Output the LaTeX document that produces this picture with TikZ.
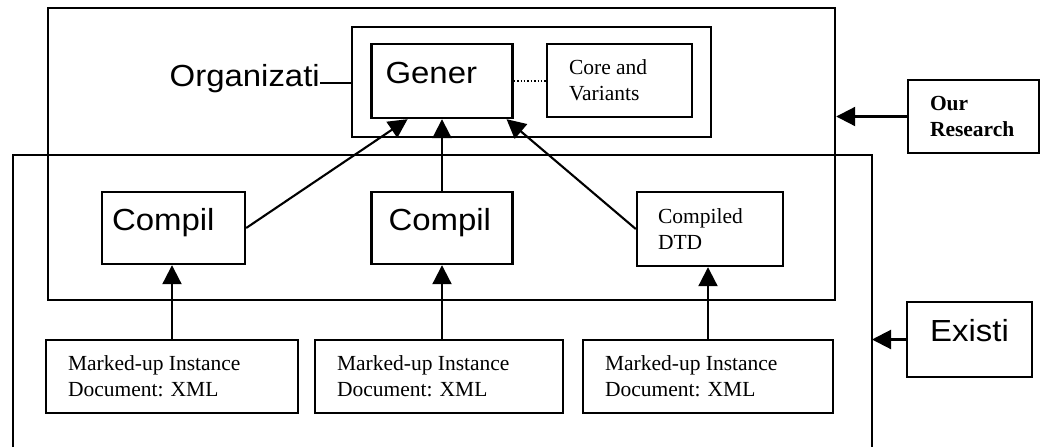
\documentclass[tikz,border=0pt]{standalone}
\usepackage{fontspec}
\setmainfont{Liberation Serif}
\newfontfamily\arialfont[FakeStretch=1.08]{Liberation Sans}
\usetikzlibrary{arrows.meta,calc}
\begin{document}
\begin{tikzpicture}[x=1pt,y=-1pt,
  frame/.style={draw, line width=2.4pt},
  sansfont/.style={font=\arialfont\fontsize{30.5}{34}\selectfont},
  sbox/.style={frame, sansfont, inner ysep=0pt, text height=0.72em, text depth=0.26em},
  tbox/.style={frame, font=\fontsize{21.5}{26}\selectfont, align=flush left, inner ysep=0pt},
  arr/.style={line width=2.1pt, -{Triangle[length=19pt,width=19pt]}},
]
\useasboundingbox (0,0) rectangle (1041,447);

% research frame and generic DTD container
\node[frame, minimum width=787pt, minimum height=292pt] (resf) at (441.5,154) {};
\node[frame, minimum width=359pt, minimum height=110pt] (cont) at (531.5,82) {};

\node[sbox, minimum width=141pt, minimum height=74pt, text width=113pt, inner xsep=14pt, align=flush left]
  (gener) at (442,81) {Gener};
\node[tbox, minimum width=145pt, minimum height=73pt, text width=101pt, inner xsep=22pt]
  (core) at (619.5,80.5) {Core and\\Variants};
\node[sansfont, inner sep=0pt, anchor=base east]
  (org) at (320,86) {Organizati};

% existing-technology frame (open at the bottom)
\coordinate (exBL) at (13,447);
\coordinate (exTL) at (13,155);
\coordinate (exTR) at (872,155);
\coordinate (exBR) at (872,447);
\draw[frame] (exBL) -- (exTL) -- (exTR) -- (exBR);

% compiled DTDs
\node[sbox, minimum width=143pt, minimum height=72pt, text width=123pt, inner xsep=10pt, align=flush left]
  (c1) at (173.5,228) {Compil};
\node[sbox, minimum width=141pt, minimum height=72pt, text width=107pt, inner xsep=17pt, align=flush left]
  (c2) at (442,228) {Compil};
\node[tbox, minimum width=146pt, minimum height=74pt, text width=104pt, inner xsep=21pt]
  (c3) at (710,229) {Compiled\\DTD};

% instance documents
\node[tbox, minimum width=252pt, minimum height=73pt, text width=208pt, inner xsep=22pt]
  (m1) at (172,376.5) {Marked-up Instance\\Document: XML};
\node[tbox, minimum width=248pt, minimum height=73pt, text width=204pt, inner xsep=22pt]
  (m2) at (439,376.5) {Marked-up Instance\\Document: XML};
\node[tbox, minimum width=250pt, minimum height=73pt, text width=206pt, inner xsep=22pt]
  (m3) at (708,376.5) {Marked-up Instance\\Document: XML};

% side labels
\node[tbox, font=\fontsize{21.5}{26}\selectfont\bfseries, minimum width=131pt, minimum height=73pt,
  text width=87pt, inner xsep=22pt] (our) at (973.5,116.5) {Our\\Research};
\node[sbox, minimum width=125pt, minimum height=75pt] (ex) at (969.5,339.5) {Existi};

% connectors
\draw[line width=1.6pt] ([yshift=3pt]org.base east) -- ([yshift=3pt]org.base east -| cont.west);
\draw[dotted, line width=1.4pt] (gener.east) -- (gener.east -| core.west);

\draw[arr] (m1.north) -- (m1.north |- c1.south);
\draw[arr] (m2.north -| c2.south) -- (c2.south);
\draw[arr] (m3.north) -- (m3.north |- c3.south);

\draw[arr] (c1.east) -- ($(gener.south west)!0.26!(gener.south east)$);
\draw[arr] (c2.north) -- (gener.south);
\draw[arr] (c3.west) -- ($(gener.south west)!0.95!(gener.south east)$);

\draw[arr] (our.west) -- (our.west -| resf.east);
\draw[arr] (ex.west) -- (ex.west -| exTR);
\end{tikzpicture}
\end{document}
